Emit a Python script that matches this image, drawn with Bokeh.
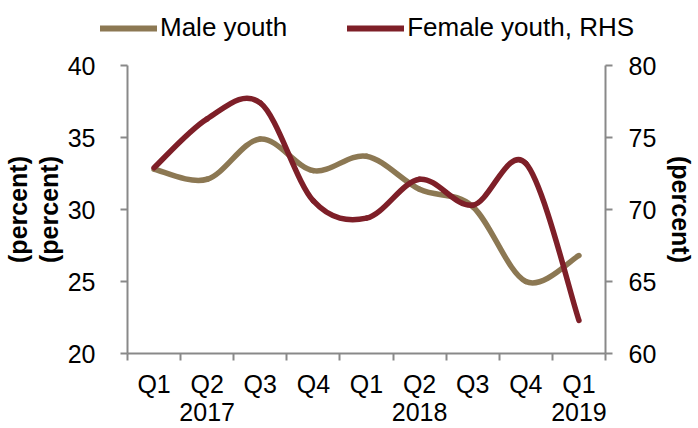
from bokeh.plotting import figure
from bokeh.layouts import column, row
from bokeh.models import (Range1d, LinearAxis, FixedTicker, Legend, LegendItem,
                          ColumnDataSource)
from bokeh.embed import file_html
from bokeh.resources import INLINE

# ---- data ----
quarters = ["Q1", "Q2", "Q3", "Q4", "Q1", "Q2", "Q3", "Q4", "Q1"]
years = {1: "2017", 5: "2018", 8: "2019"}
male_youth = [32.8, 32.1, 34.9, 32.7, 33.7, 31.4, 30.2, 25.0, 26.8]
female_youth = [72.9, 76.3, 77.4, 70.6, 69.4, 72.1, 70.3, 73.2, 62.3]

TAN = "#8c7853"
RED = "#7e1f28"
AXIS = "#898989"
FONT = "Liberation Sans"
TICK_FS = "25px"

x = list(range(len(quarters)))

# ---------------- legend strip ----------------
lg = figure(width=698, height=45, output_backend="svg", toolbar_location=None,
            x_axis_type=None, y_axis_type=None, min_border=0,
            min_border_left=0, min_border_right=0, min_border_top=0,
            min_border_bottom=0,
            x_range=Range1d(-0.5, 8.5), y_range=Range1d(0, 100))
lg.outline_line_color = None
lg.xgrid.visible = False
lg.ygrid.visible = False
lm = lg.line(x, male_youth, line_color=TAN, line_width=6, line_cap="round",
             visible=False)
lf = lg.line(x, female_youth, line_color=RED, line_width=6, line_cap="round",
             visible=False)
legend = Legend(items=[LegendItem(label="Male youth", renderers=[lm]),
                       LegendItem(label="Female youth, RHS", renderers=[lf])],
                orientation="horizontal", location=(100, 2),
                glyph_width=57, glyph_height=20, label_standoff=3, spacing=60,
                padding=0, margin=0, border_line_color=None,
                background_fill_alpha=0, label_text_font=FONT,
                label_text_font_size="26px", label_text_color="black",
                click_policy="none")
lg.add_layout(legend, "center")

# ---------------- main chart ----------------
p = figure(width=698, height=383, output_backend="svg", toolbar_location=None,
           x_range=Range1d(-0.5, 8.5), y_range=Range1d(20, 40),
           min_border_left=125, min_border_right=92, min_border_top=20,
           min_border_bottom=75)
p.extra_y_ranges = {"right": Range1d(60, 80)}
p.outline_line_color = None
p.xgrid.visible = False
p.ygrid.visible = False


def smooth_segments(xs, ys):
    n = len(xs)
    x0, y0, x1, y1, cx0, cy0, cx1, cy1 = [], [], [], [], [], [], [], []
    for i in range(n - 1):
        im1 = max(i - 1, 0)
        ip2 = min(i + 2, n - 1)
        x0.append(xs[i]); y0.append(ys[i])
        x1.append(xs[i + 1]); y1.append(ys[i + 1])
        cx0.append(xs[i] + (xs[i + 1] - xs[im1]) / 6)
        cy0.append(ys[i] + (ys[i + 1] - ys[im1]) / 6)
        cx1.append(xs[i + 1] - (xs[ip2] - xs[i]) / 6)
        cy1.append(ys[i + 1] - (ys[ip2] - ys[i]) / 6)
    return dict(x0=x0, y0=y0, x1=x1, y1=y1, cx0=cx0, cy0=cy0, cx1=cx1, cy1=cy1)


src_m = ColumnDataSource(smooth_segments(x, male_youth))
src_f = ColumnDataSource(smooth_segments(x, female_youth))
p.bezier("x0", "y0", "x1", "y1", "cx0", "cy0", "cx1", "cy1", source=src_m,
         line_color=TAN, line_width=5.5, line_cap="round")
p.bezier("x0", "y0", "x1", "y1", "cx0", "cy0", "cx1", "cy1", source=src_f,
         line_color=RED, line_width=5.5, line_cap="round", y_range_name="right")

# x axis
xa = p.xaxis[0]
xa.ticker = FixedTicker(ticks=x, minor_ticks=[i - 0.5 for i in range(len(x) + 1)])
xa.major_label_overrides = {i: q for i, q in enumerate(quarters)}
xa.major_tick_line_color = None
xa.major_tick_out = 7
xa.major_tick_in = 0
xa.minor_tick_line_color = AXIS
xa.minor_tick_line_width = 2
xa.minor_tick_out = 7
xa.minor_tick_in = 0
xa.axis_line_color = AXIS
xa.axis_line_width = 2
xa.major_label_text_font = FONT
xa.major_label_text_font_size = TICK_FS
xa.major_label_text_color = "black"
xa.major_label_standoff = 9

ya = LinearAxis(ticker=FixedTicker(ticks=list(years.keys())),
                major_label_overrides=years)
ya.axis_line_color = None
ya.major_tick_line_color = None
ya.major_tick_out = 0
ya.major_tick_in = 0
ya.minor_tick_line_color = None
ya.major_label_text_font = FONT
ya.major_label_text_font_size = TICK_FS
ya.major_label_text_color = "black"
ya.major_label_standoff = 2
p.add_layout(ya, "below")

# left axis
la = p.yaxis[0]
la.ticker = FixedTicker(ticks=[20, 25, 30, 35, 40])
la.axis_line_color = AXIS
la.axis_line_width = 2
la.major_tick_line_color = AXIS
la.major_tick_line_width = 2
la.major_tick_out = 7
la.major_tick_in = 0
la.minor_tick_line_color = None
la.major_label_text_font = FONT
la.major_label_text_font_size = TICK_FS
la.major_label_text_color = "black"
la.major_label_standoff = 25
la.axis_label = "(percent)"
la.axis_label_text_font = FONT
la.axis_label_text_font_style = "bold"
la.axis_label_text_font_size = "25px"
la.axis_label_text_color = "black"
la.axis_label_standoff = 2

la2 = LinearAxis(ticker=FixedTicker(ticks=[]))
la2.axis_line_color = None
la2.major_tick_line_color = None
la2.minor_tick_line_color = None
la2.major_tick_out = 0
la2.major_label_text_font_size = "0px"
la2.major_label_standoff = 0
la2.axis_label = "(percent)"
la2.axis_label_text_font = FONT
la2.axis_label_text_font_style = "bold"
la2.axis_label_text_font_size = "25px"
la2.axis_label_text_color = "black"
la2.axis_label_standoff = 0
p.add_layout(la2, "left")

# right axis
ra = LinearAxis(y_range_name="right", ticker=FixedTicker(ticks=[60, 65, 70, 75, 80]))
ra.axis_line_color = AXIS
ra.axis_line_width = 2
ra.major_tick_line_color = AXIS
ra.major_tick_line_width = 2
ra.major_tick_out = 7
ra.major_tick_in = 0
ra.minor_tick_line_color = None
ra.major_label_text_font = FONT
ra.major_label_text_font_size = TICK_FS
ra.major_label_text_color = "black"
ra.major_label_standoff = 16
ra.axis_label = "(percent)"
ra.axis_label_text_font = FONT
ra.axis_label_text_font_style = "bold"
ra.axis_label_text_font_size = "25px"
ra.axis_label_text_color = "black"
ra.axis_label_standoff = 8
p.add_layout(ra, "right")

layout = column(row(lg, spacing=0), p, spacing=0)
open("out.html", "w").write(file_html(layout, INLINE))
